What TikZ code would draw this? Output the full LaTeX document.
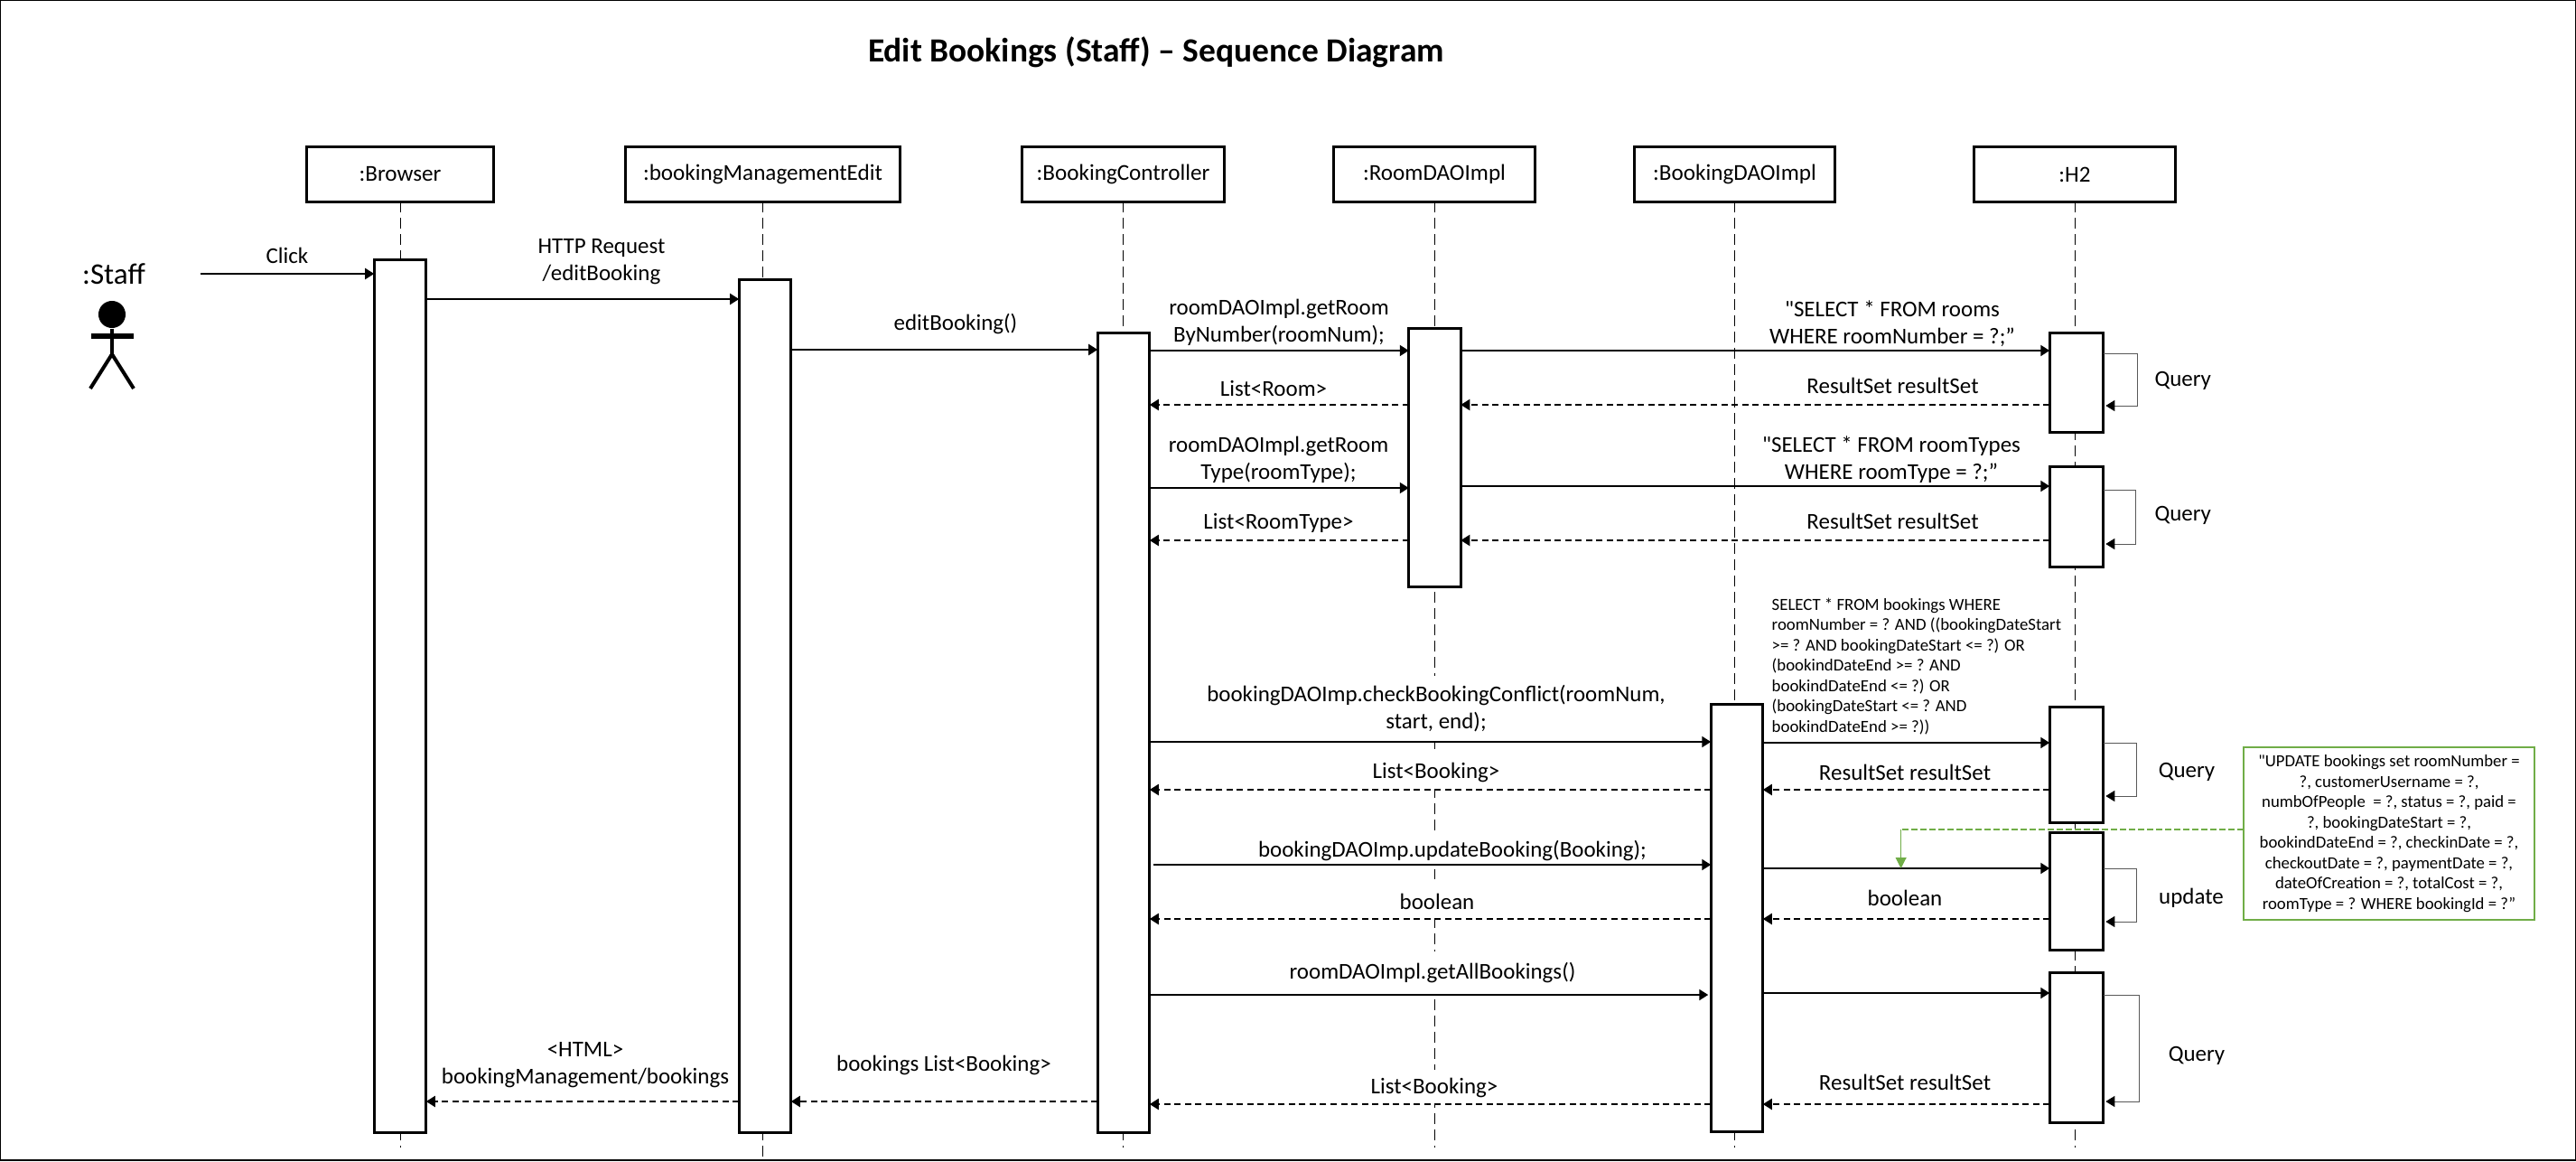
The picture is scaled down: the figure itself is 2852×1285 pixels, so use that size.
\documentclass[tikz,border=0pt]{standalone}
\usepackage{fontspec}
\setmainfont{Carlito}[Ligatures=TeXOff]
\usetikzlibrary{arrows.meta,positioning,calc}

\begin{document}
\begin{tikzpicture}[
    x=0.01cm, y=-0.01cm,
    head/.style={rectangle, draw=black, line width=0.03cm, fill=white, minimum height=0.6cm, inner sep=0pt, outer sep=0pt, font=\fontsize{7.15}{8.5}\selectfont},
    bar/.style={rectangle, draw=black, line width=0.03cm, fill=white, minimum width=0.575cm, inner sep=0pt, outer sep=0pt},
    life/.style={draw=black, line width=0.01cm, dash pattern=on 0.12cm off 0.06cm},
    msg/.style={draw=black, line width=0.02cm, -{Triangle[length=0.1cm,width=0.12cm]}},
    reply/.style={draw=black, line width=0.02cm, dash pattern=on 0.07cm off 0.045cm, -{Triangle[length=0.1cm,width=0.12cm]}},
    selfmsg/.style={draw=black!65, line width=0.01cm, -{Triangle[length=0.1cm,width=0.12cm,black]}, shorten >=0.025cm},
    lbl/.style={inner sep=0pt, yshift=-0.015cm, align=center, font=\fontsize{7.1}{8.5}\selectfont},
    lblfill/.style={lbl, fill=white, minimum height=0.4cm},
    sql/.style={inner sep=0pt, align=left, font=\fontsize{5.35}{6.4}\selectfont},
    note/.style={rectangle, draw=noteGreen, line width=0.02cm, fill=white, inner sep=0pt, outer sep=0pt, minimum width=3.225cm, minimum height=1.91cm, align=center, font=\fontsize{5.33}{6.4}\selectfont}
]
\definecolor{noteGreen}{HTML}{70AD47}
\useasboundingbox (0,0) rectangle (2852,1285);

% Frame and title
\node[rectangle, draw=black, line width=0.025cm, minimum width=28.5cm, minimum height=12.83cm, inner sep=0pt] (frame) at (1426,642) {};
\node[inner sep=0pt, font=\fontsize{10.65}{12}\selectfont\bfseries] (title) at (1280,58) {Edit Bookings (Staff) – Sequence Diagram};

% Lifeline heads
\node[head, minimum width=2.06cm] (browserHead) at (443,193) {:Browser};
\node[head, minimum width=3.03cm] (bookingHead) at (844.5,193) {:bookingManagementEdit};
\node[head, minimum width=2.23cm] (controllerHead) at (1243.5,193) {:BookingController};
\node[head, minimum width=2.22cm] (roomDaoHead) at (1588,193) {:RoomDAOImpl};
\node[head, minimum width=2.22cm] (bookingDaoHead) at (1920.5,193) {:BookingDAOImpl};
\node[head, minimum width=2.22cm] (h2Head) at (2297,193) {:H2};

% Lifelines
\coordinate (browserEnd) at (443,1270);
\coordinate (bookingEnd) at (844.5,1285);
\coordinate (controllerEnd) at (1243.5,1270);
\coordinate (roomDaoEnd) at (1588,1270);
\coordinate (bookingDaoEnd) at (1920.5,1270);
\coordinate (h2End) at (2297,1270);
\draw[life] (browserHead.south) -- (browserEnd);
\draw[life] (bookingHead.south) -- (bookingEnd);
\draw[life] (controllerHead.south) -- (controllerEnd);
\draw[life] (roomDaoHead.south) -- (roomDaoEnd);
\draw[life] (bookingDaoHead.south) -- (bookingDaoEnd);
\draw[life] (h2Head.south) -- (h2End);

% Activation bars
\node[bar, minimum height=9.65cm] (browserBar) at (443,770.5) {};
\node[bar, minimum height=9.43cm] (bookingBar) at (847,781.5) {};
\node[bar, minimum height=8.84cm] (controllerBar) at (1244,811) {};
\node[bar, minimum height=2.85cm] (roomDaoBar) at (1588.5,506.5) {};
\node[bar, minimum height=4.73cm] (bookingDaoBar) at (1923,1016) {};
\node[bar, minimum width=0.595cm, minimum height=1.09cm] (h2BarA) at (2299,423.5) {};
\node[bar, minimum width=0.595cm, minimum height=1.11cm] (h2BarB) at (2299,572) {};
\node[bar, minimum width=0.595cm, minimum height=1.27cm] (h2BarC) at (2299,846.5) {};
\node[bar, minimum width=0.595cm, minimum height=1.29cm] (h2BarD) at (2299,986.5) {};
\node[bar, minimum width=0.595cm, minimum height=1.65cm] (h2BarE) at (2299,1159.5) {};

% Staff actor
\node[inner sep=0pt, font=\fontsize{9.4}{10}\selectfont] (staff) at (126,303) {:Staff};
\node[circle, fill=black, inner sep=0pt, minimum size=0.3cm] (staffHead) at (124,348) {};
\coordinate (staffHip) at (124,392);
\coordinate (staffArmL) at (101,372);
\coordinate (staffArmR) at (148,372);
\coordinate (staffFootL) at (100,430);
\coordinate (staffFootR) at (148,430);
\draw[line width=0.04cm] (staffHead.south) -- (staffHip);
\draw[line width=0.06cm] (staffArmL) -- (staffArmR);
\draw[line width=0.04cm] (staffFootL) -- (staffHip) -- (staffFootR);

% Browser to controller
\coordinate (staffOut) at (222,303);
\draw[msg] (staffOut) -- (browserBar.west |- staffOut);
\node[lbl] (clickLbl) at (318,281) {Click};
\draw[msg] (browserBar.east |- 0,331) -- (bookingBar.west |- 0,331);
\node[lbl] (httpLbl) at (666,288) {HTTP Request\\/editBooking};
\draw[msg] (bookingBar.east |- 0,387) -- (controllerBar.west |- 0,387);
\node[lbl] (editLbl) at (1058,357) {editBooking()};

% Get room
\draw[msg] (controllerBar.east |- 0,388) -- (roomDaoBar.west |- 0,388);
\node[lbl] (getRoomLbl) at (1416,355) {roomDAOImpl.getRoom\\ByNumber(roomNum);};
\draw[msg] (roomDaoBar.east |- 0,388) -- (h2BarA.west |- 0,388);
\node[lbl] (roomSqlLbl) at (2095,357) {"SELECT * FROM rooms\\WHERE roomNumber = ?;”};
\draw[reply] (roomDaoBar.west |- 0,448) -- (controllerBar.east |- 0,448);
\node[lbl] (roomListLbl) at (1410,428) {List<Room>};
\draw[reply] (h2BarA.west |- 0,448) -- (roomDaoBar.east |- 0,448);
\node[lbl] (roomResultLbl) at (2095.5,425) {ResultSet resultSet};
\draw[selfmsg] (h2BarA.east |- 0,391) -- (2366,391) -- (2366,449) -- (h2BarA.east |- 0,449);
\node[lbl] (queryLblA) at (2416.7,420) {Query};

% Get room type
\draw[msg] (controllerBar.east |- 0,540) -- (roomDaoBar.west |- 0,540);
\node[lbl] (getTypeLbl) at (1415.5,507.5) {roomDAOImpl.getRoom\\Type(roomType);};
\draw[msg] (roomDaoBar.east |- 0,538) -- (h2BarB.west |- 0,538);
\node[lbl] (typeSqlLbl) at (2094,507.5) {"SELECT * FROM roomTypes\\WHERE roomType = ?;”};
\draw[reply] (roomDaoBar.west |- 0,598) -- (controllerBar.east |- 0,598);
\node[lbl] (typeListLbl) at (1415.5,577) {List<RoomType>};
\draw[reply] (h2BarB.west |- 0,598) -- (roomDaoBar.east |- 0,598);
\node[lbl] (typeResultLbl) at (2095.5,575) {ResultSet resultSet};
\draw[selfmsg] (h2BarB.east |- 0,542) -- (2364,542) -- (2364,602) -- (h2BarB.east |- 0,602);
\node[lbl] (queryLblB) at (2416.7,569) {Query};

% Check booking conflict
\node[lblfill, minimum height=0.72cm] (conflictLbl) at (1590,783) {bookingDAOImp.checkBookingConflict(roomNum,\\start, end);};
\draw[msg] (controllerBar.east |- 0,821) -- (bookingDaoBar.west |- 0,821);
\draw[msg] (bookingDaoBar.east |- 0,822) -- (h2BarC.west |- 0,822);
\node[sql, anchor=north west] (conflictSql) at (1961,661) {SELECT * FROM bookings WHERE\\roomNumber = ? AND ((bookingDateStart\\>= ? AND bookingDateStart <= ?) OR\\(bookindDateEnd >= ? AND\\bookindDateEnd <= ?) OR\\(bookingDateStart <= ? AND\\bookindDateEnd >= ?))};
\node[lblfill] (conflictListLbl) at (1590,853) {List<Booking>};
\draw[reply] (bookingDaoBar.west |- 0,874) -- (controllerBar.east |- 0,874);
\draw[reply] (h2BarC.west |- 0,874) -- (bookingDaoBar.east |- 0,874);
\node[lbl] (conflictResultLbl) at (2109,853) {ResultSet resultSet};
\draw[selfmsg] (h2BarC.east |- 0,822) -- (2365,822) -- (2365,881) -- (h2BarC.east |- 0,881);
\node[lbl] (queryLblC) at (2421,853) {Query};

% Update booking
\node[lblfill] (updateLbl) at (1608,940) {bookingDAOImp.updateBooking(Booking);};
\draw[msg, shorten <=0.04cm] (controllerBar.east |- 0,957) -- (bookingDaoBar.west |- 0,957);
\draw[msg] (bookingDaoBar.east |- 0,961) -- (h2BarD.west |- 0,961);
\node[lbl] (boolLblA) at (2109,992) {boolean};
\draw[reply] (h2BarD.west |- 0,1017) -- (bookingDaoBar.east |- 0,1017);
\node[lblfill] (boolLblB) at (1591,996) {boolean};
\draw[reply] (bookingDaoBar.west |- 0,1017) -- (controllerBar.east |- 0,1017);
\draw[selfmsg] (h2BarD.east |- 0,961) -- (2365,961) -- (2365,1020) -- (h2BarD.east |- 0,1020);
\node[lbl] (updateSelfLbl) at (2426,992) {update};

% Update note
\node[note] (updateNote) at (2645,922.5) {"UPDATE bookings set roomNumber =\\?, customerUsername = ?,\\numbOfPeople\ \ = ?, status = ?, paid =\\?, bookingDateStart = ?,\\bookindDateEnd = ?, checkinDate = ?,\\checkoutDate = ?, paymentDate = ?,\\dateOfCreation = ?, totalCost = ?,\\roomType = ? WHERE bookingId = ?”};
\coordinate (noteCorner) at (2104.6,918);
\coordinate (noteEnd) at (2104.6,961);
\draw[noteGreen, line width=0.02cm, dash pattern=on 0.07cm off 0.03cm] (updateNote.west |- noteCorner) -- (noteCorner);
\draw[noteGreen, line width=0.01cm, -{Triangle[length=0.12cm,width=0.12cm]}] (noteCorner) -- (noteEnd);

% Get all bookings
\node[lblfill, minimum height=0.48cm] (allLbl) at (1586,1075) {roomDAOImpl.getAllBookings()};
\draw[msg, shorten >=0.03cm] (controllerBar.east |- 0,1101) -- (bookingDaoBar.west |- 0,1101);
\draw[msg] (bookingDaoBar.east |- 0,1099) -- (h2BarE.west |- 0,1099);
\draw[selfmsg] (h2BarE.east |- 0,1101) -- (2368,1101) -- (2368,1219) -- (h2BarE.east |- 0,1219);
\node[lbl] (queryLblE) at (2432,1167) {Query};
\draw[reply] (h2BarE.west |- 0,1222) -- (bookingDaoBar.east |- 0,1222);
\node[lbl] (allResultLbl) at (2109,1196) {ResultSet resultSet};
\node[lblfill, minimum height=0.39cm] (allListLbl) at (1588,1202) {List<Booking>};
\draw[reply] (bookingDaoBar.west |- 0,1222) -- (controllerBar.east |- 0,1222);

% Back to the browser
\draw[reply] (controllerBar.west |- 0,1219) -- (bookingBar.east |- 0,1219);
\node[lbl] (bookingsLbl) at (1045,1177) {bookings List<Booking>};
\draw[reply] (bookingBar.west |- 0,1219) -- (browserBar.east |- 0,1219);
\node[lbl] (htmlLbl) at (648,1177) {<HTML>\\bookingManagement/bookings};

\end{tikzpicture}
\end{document}
